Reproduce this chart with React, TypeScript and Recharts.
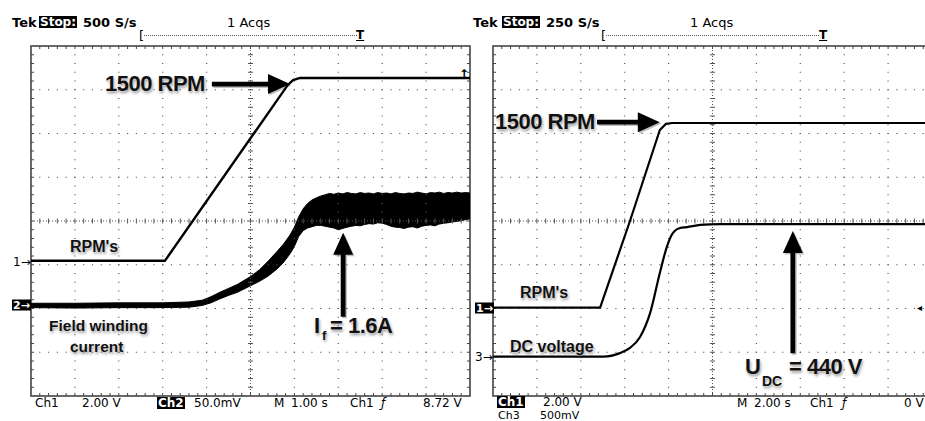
import React from 'react';
import { ComposedChart, Line, Area, XAxis, YAxis, ReferenceLine, ReferenceArea } from 'recharts';

// screen units: x = divisions (0..10), y = divisions from bottom (0..8)

// left screen, 1.00 s/div
const rpmLeftT = [0, 3.05, 5.85, 5.97, 6.13, 10];
const rpmLeftV = [3.09, 3.09, 7.11, 7.22, 7.27, 7.27];

const fieldT = [0, 1, 2, 3, 3.6, 3.9, 4.1, 4.3, 4.5, 4.7, 4.9, 5.0, 5.2, 5.4, 5.6, 5.75, 5.9, 6.0, 6.1, 6.2, 6.3, 6.4, 6.5,
  6.6, 6.7, 6.8, 6.9, 7.0, 7.1, 7.2, 7.3, 7.4, 7.5, 7.6, 7.7, 7.8, 7.9, 8.0, 8.1, 8.2, 8.3, 8.4, 8.5, 8.6, 8.7, 8.8, 8.9,
  9.0, 9.1, 9.2, 9.3, 9.4, 9.5, 9.6, 9.7, 9.8, 9.9, 10];
const fieldLow = [2.02, 2.01, 2.02, 2.02, 2.03, 2.07, 2.13, 2.22, 2.3, 2.37, 2.47, 2.52, 2.62, 2.74, 2.9, 3.05, 3.25, 3.42, 3.65, 3.78, 3.84, 3.87, 3.9,
  3.9, 3.88, 3.86, 3.84, 3.8, 3.83, 3.86, 3.88, 3.9, 3.89, 3.92, 3.94, 3.93, 3.96, 3.95, 3.92, 3.88, 3.86, 3.85, 3.83, 3.86, 3.87, 3.84, 3.88,
  3.9, 3.91, 3.89, 3.93, 3.95, 3.96, 3.98, 3.99, 4.01, 4.03, 4.05];
const fieldHigh = [2.12, 2.12, 2.13, 2.13, 2.15, 2.19, 2.27, 2.37, 2.46, 2.55, 2.67, 2.73, 2.88, 3.08, 3.3, 3.47, 3.68, 3.86, 4.1, 4.28, 4.4, 4.48, 4.53,
  4.57, 4.6, 4.63, 4.61, 4.64, 4.62, 4.65, 4.63, 4.62, 4.65, 4.63, 4.64, 4.62, 4.65, 4.63, 4.64, 4.62, 4.65, 4.63, 4.62, 4.64, 4.63, 4.66, 4.64,
  4.62, 4.65, 4.64, 4.66, 4.63, 4.65, 4.64, 4.66, 4.64, 4.65, 4.64];

// right screen, 2.00 s/div
const rpmRightT = [0, 2.44, 3.12, 3.8, 3.94, 4.08, 10];
const rpmRightV = [2.02, 2.02, 4.0, 6.08, 6.22, 6.24, 6.24];
const dcT = [0, 2.51, 2.89, 3.12, 3.35, 3.58, 3.8, 3.96, 4.1, 4.26, 4.42, 4.72, 5.17, 10];
const dcV = [0.9, 0.9, 0.98, 1.1, 1.35, 1.9, 2.81, 3.41, 3.73, 3.84, 3.86, 3.91, 3.93, 3.93];

const gridX = [1, 2, 3, 4, 6, 7, 8, 9];
const gridY = [1, 2, 3, 5, 6, 7];

const toPts = (t: number[], v: number[]) => t.map((x, i) => ({ t: x, v: v[i] }));
const fieldData = fieldT.map((t, i) => ({ t, band: [fieldLow[i], fieldHigh[i]] }));

const W = 480;
const H = 421;
const margin = { top: 46, left: 31, right: 10, bottom: 25 };

const Frame = (p: any) => {
  const { x, y, width, height } = p;
  const ticks: React.ReactNode[] = [];
  for (let i = 1; i < 50; i++) {
    const tx = x + (width * i) / 50;
    ticks.push(<line key={'t' + i} x1={tx} x2={tx} y1={y} y2={y + 3} />);
    ticks.push(<line key={'b' + i} x1={tx} x2={tx} y1={y + height} y2={y + height - 3} />);
  }
  for (let j = 1; j < 40; j++) {
    const ty = y + (height * j) / 40;
    ticks.push(<line key={'l' + j} x1={x} x2={x + 3} y1={ty} y2={ty} />);
    ticks.push(<line key={'r' + j} x1={x + width} x2={x + width - 3} y1={ty} y2={ty} />);
  }
  return (
    <g stroke="#444" strokeWidth={1}>
      {ticks}
      <rect x={x} y={y} width={width} height={height} fill="none" strokeWidth={1.6} />
    </g>
  );
};

const GridLine = (p: any) => {
  const { x1, y1, x2, y2 } = p;
  const vertical = Math.abs(x1 - x2) < 0.5;
  const len = vertical ? Math.abs(y2 - y1) : Math.abs(x2 - x1);
  const step = len / (vertical ? 40 : 50);
  return (
    <line x1={x1} y1={y1} x2={x2} y2={y2} stroke="#555" strokeWidth={1.2}
      strokeDasharray={`1.2 ${step - 1.2}`} strokeDashoffset={0.6} />
  );
};

const CenterLine = (p: any) => {
  const { x1, y1, x2, y2 } = p;
  const vertical = Math.abs(x1 - x2) < 0.5;
  const n = vertical ? 40 : 50;
  const marks: React.ReactNode[] = [];
  for (let i = 1; i < n; i++) {
    if (vertical) {
      const ty = y1 + ((y2 - y1) * i) / n;
      marks.push(<line key={i} x1={x1 - 2.5} x2={x1 + 2.5} y1={ty} y2={ty} />);
    } else {
      const tx = x1 + ((x2 - x1) * i) / n;
      marks.push(<line key={i} x1={tx} x2={tx} y1={y1 - 2.5} y2={y1 + 2.5} />);
    }
  }
  return (
    <g stroke="#555" strokeWidth={1}>
      <line x1={x1} y1={y1} x2={x2} y2={y2} strokeDasharray="1 2" />
      {marks}
    </g>
  );
};

const Arrow = (p: any) => {
  const { x1, y1, x2, y2 } = p;
  const len = Math.hypot(x2 - x1, y2 - y1);
  const dx = (x2 - x1) / len;
  const dy = (y2 - y1) / len;
  const nx = -dy;
  const ny = dx;
  const sw = 2.4;
  const hw = 10;
  const hl = 22;
  const bx = x2 - dx * hl;
  const by = y2 - dy * hl;
  const pts = [
    [x1 + nx * sw, y1 + ny * sw],
    [bx + nx * sw, by + ny * sw],
    [bx + nx * hw, by + ny * hw],
    [x2, y2],
    [bx - nx * hw, by - ny * hw],
    [bx - nx * sw, by - ny * sw],
    [x1 - nx * sw, y1 - ny * sw],
  ];
  const d = pts.map((q) => q.join(',')).join(' ');
  return (
    <g>
      <polygon points={d} fill="rgba(0,0,0,0.25)" transform="translate(1.5,1.5)" />
      <polygon points={d} fill="#000" />
    </g>
  );
};

function Screen({ children }: { children: React.ReactNode }) {
  return (
    <ComposedChart width={W} height={H} margin={margin}>
      <XAxis type="number" dataKey="t" domain={[0, 10]} hide allowDataOverflow />
      <YAxis type="number" domain={[0, 8]} hide allowDataOverflow />
      {gridX.map((g) => (
        <ReferenceLine key={'gx' + g} x={g} shape={GridLine} ifOverflow="visible" />
      ))}
      {gridY.map((g) => (
        <ReferenceLine key={'gy' + g} y={g} shape={GridLine} ifOverflow="visible" />
      ))}
      <ReferenceLine x={5} shape={CenterLine} ifOverflow="visible" />
      <ReferenceLine y={4} shape={CenterLine} ifOverflow="visible" />
      <ReferenceArea x1={0} x2={10} y1={0} y2={8} shape={Frame} ifOverflow="visible" />
      {children}
    </ComposedChart>
  );
}

const Txt = ({ x, y, children, s }: { x: number; y: number; children: React.ReactNode; s?: React.CSSProperties }) => (
  <div style={{ position: 'absolute', left: x, top: y, transform: 'translateY(-50%)', whiteSpace: 'nowrap', lineHeight: 1, ...s }}>
    {children}
  </div>
);

const tek: React.CSSProperties = { fontFamily: 'DejaVu Sans', fontSize: 12, color: '#000' };
const tekB: React.CSSProperties = { ...tek, fontSize: 13, fontWeight: 'bold' };
const inv: React.CSSProperties = { ...tek, fontWeight: 'bold', background: '#000', color: '#fff', padding: '0 1px' };
const note: React.CSSProperties = {
  fontFamily: '"Liberation Sans", Arial, sans-serif',
  fontWeight: 'bold',
  color: '#111',
  textShadow: '0 0 2px #fff, 1px 2px 3px rgba(0,0,0,0.45)',
};
const big: React.CSSProperties = { ...note, fontSize: 22, letterSpacing: -0.5 };
const mid: React.CSSProperties = { ...note, fontSize: 16 };

export default function App() {
  return (
    <div style={{ position: 'fixed', left: 0, top: 0, width: 925, height: 421, overflow: 'hidden', background: '#fff' }}>
      <div style={{ position: 'absolute', left: 0, top: 0 }}>
        <Screen>
          <Area data={fieldData} dataKey="band" type="linear" fill="#000" fillOpacity={1} stroke="#000" strokeWidth={1}
            isAnimationActive={false} />
          <Line data={toPts(rpmLeftT, rpmLeftV)} dataKey="v" type="linear" stroke="#000" strokeWidth={2.4} dot={false}
            isAnimationActive={false} />
          <ReferenceLine segment={[{ x: 4.12, y: 7.13 }, { x: 5.9, y: 7.13 }]} shape={Arrow} ifOverflow="visible" />
          <ReferenceLine segment={[{ x: 7.11, y: 1.81 }, { x: 7.11, y: 3.73 }]} shape={Arrow} ifOverflow="visible" />
        </Screen>
      </div>
      <div style={{ position: 'absolute', left: 462, top: 0 }}>
        <Screen>
          <Line data={toPts(rpmRightT, rpmRightV)} dataKey="v" type="linear" stroke="#000" strokeWidth={2.2} dot={false}
            isAnimationActive={false} />
          <Line data={toPts(dcT, dcV)} dataKey="v" type="monotone" stroke="#000" strokeWidth={2.2} dot={false}
            isAnimationActive={false} />
          <ReferenceLine segment={[{ x: 2.37, y: 6.26 }, { x: 3.8, y: 6.26 }]} shape={Arrow} ifOverflow="visible" />
          <ReferenceLine segment={[{ x: 6.83, y: 0.98 }, { x: 6.83, y: 3.77 }]} shape={Arrow} ifOverflow="visible" />
        </Screen>
      </div>

      {/* left header */}
      <Txt x={12} y={22} s={tekB}>Tek</Txt>
      <Txt x={39} y={22} s={inv}>Stop:</Txt>
      <Txt x={83} y={22} s={tekB}>500 S/s</Txt>
      <Txt x={227} y={22} s={{ ...tek, fontSize: 13 }}>1 Acqs</Txt>
      <Txt x={139} y={35} s={{ ...tek, fontSize: 13 }}>[</Txt>
      <div style={{ position: 'absolute', left: 144, top: 35, width: 213, borderTop: '1px dotted #555' }} />
      <Txt x={356} y={35} s={{ ...tek, fontWeight: 'bold', fontSize: 12, textDecoration: 'underline' }}>T</Txt>

      {/* right header */}
      <Txt x={473} y={22} s={tekB}>Tek</Txt>
      <Txt x={502} y={22} s={inv}>Stop:</Txt>
      <Txt x={546} y={22} s={tekB}>250 S/s</Txt>
      <Txt x={690} y={22} s={{ ...tek, fontSize: 13 }}>1 Acqs</Txt>
      <Txt x={601} y={35} s={{ ...tek, fontSize: 13 }}>[</Txt>
      <div style={{ position: 'absolute', left: 606, top: 35, width: 213, borderTop: '1px dotted #555' }} />
      <Txt x={819} y={35} s={{ ...tek, fontWeight: 'bold', fontSize: 12, textDecoration: 'underline' }}>T</Txt>

      {/* channel markers */}
      <Txt x={13} y={262} s={tek}>1→</Txt>
      <Txt x={12} y={305} s={{ ...inv, fontSize: 11 }}>2→</Txt>
      <Txt x={475} y={308} s={{ ...inv, fontSize: 11 }}>1→</Txt>
      <Txt x={475} y={357} s={tek}>3→</Txt>
      <Txt x={459} y={74} s={{ ...tek, fontWeight: 'bold', fontSize: 12 }}>↑</Txt>
      <Txt x={917} y={308} s={{ ...tek, fontSize: 10 }}>◂</Txt>

      {/* left annotations */}
      <Txt x={105} y={84} s={big}>1500 RPM</Txt>
      <Txt x={70} y={247} s={mid}>RPM's</Txt>
      <Txt x={49} y={326} s={{ ...mid, fontSize: 15.5 }}>Field winding</Txt>
      <Txt x={70} y={347} s={{ ...mid, fontSize: 15.5 }}>current</Txt>
      <Txt x={314} y={326} s={big}>I</Txt>
      <Txt x={322} y={335} s={{ ...note, fontSize: 13 }}>f</Txt>
      <Txt x={330} y={326} s={big}>= 1.6A</Txt>

      {/* right annotations */}
      <Txt x={495} y={122} s={big}>1500 RPM</Txt>
      <Txt x={520} y={293} s={mid}>RPM's</Txt>
      <Txt x={510} y={347} s={mid}>DC voltage</Txt>
      <Txt x={745} y={367} s={big}>U</Txt>
      <Txt x={762} y={381} s={{ ...note, fontSize: 14 }}>DC</Txt>
      <Txt x={789} y={367} s={big}>= 440 V</Txt>

      {/* left status line */}
      <Txt x={35} y={403} s={tek}>Ch1</Txt>
      <Txt x={82} y={403} s={tek}>2.00 V</Txt>
      <Txt x={157} y={403} s={inv}>Ch2</Txt>
      <Txt x={194} y={403} s={tek}>50.0mV</Txt>
      <Txt x={274} y={403} s={tek}>M</Txt>
      <Txt x={291} y={403} s={tek}>1.00 s</Txt>
      <Txt x={350} y={403} s={tek}>Ch1</Txt>
      <Txt x={381} y={403} s={{ ...tek, fontStyle: 'italic' }}>ƒ</Txt>
      <Txt x={423} y={403} s={tek}>8.72 V</Txt>

      {/* right status line */}
      <Txt x={497} y={402} s={inv}>Ch1</Txt>
      <Txt x={543} y={402} s={tek}>2.00 V</Txt>
      <Txt x={498} y={415} s={{ ...tek, fontSize: 11 }}>Ch3</Txt>
      <Txt x={540} y={415} s={{ ...tek, fontSize: 11 }}>500mV</Txt>
      <Txt x={737} y={403} s={tek}>M</Txt>
      <Txt x={754} y={403} s={tek}>2.00 s</Txt>
      <Txt x={810} y={403} s={tek}>Ch1</Txt>
      <Txt x={842} y={403} s={{ ...tek, fontStyle: 'italic' }}>ƒ</Txt>
      <Txt x={904} y={403} s={tek}>0 V</Txt>
    </div>
  );
}
